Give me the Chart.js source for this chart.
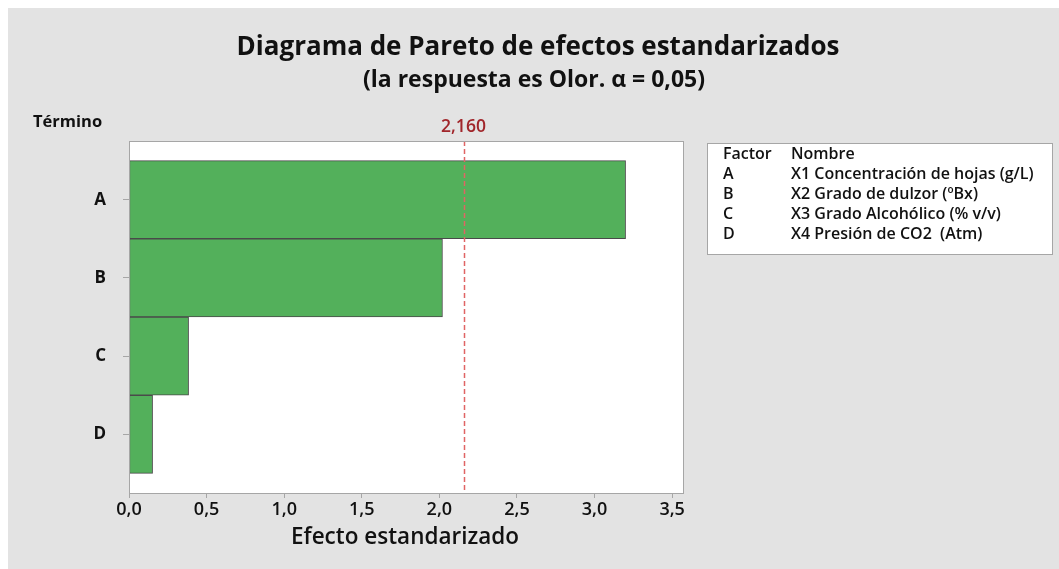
<!DOCTYPE html>
<html>
<head>
<meta charset="utf-8">
<script src="https://cdn.jsdelivr.net/npm/chart.js@4.4.1/dist/chart.umd.min.js"></script>
<style>
  html, body { margin: 0; padding: 0; background: #ffffff; }
  #wrap { position: absolute; left: 8px; top: 8px; width: 1051px; height: 561px; background: #e3e3e3; }
</style>
</head>
<body>
<div id="wrap"><canvas id="pareto" width="1051" height="561"></canvas></div>
<script>
// data
const categories = ["A", "B", "C", "D"];
const effects = [3.20, 2.02, 0.384, 0.152];
const criticalValue = 2.160;
const xTicks = [0, 0.5, 1.0, 1.5, 2.0, 2.5, 3.0, 3.5];
const factorNames = [
    "X1 Concentración de hojas (g/L)",
    "X2 Grado de dulzor (ºBx)",
    "X3 Grado Alcohólico (% v/v)",
    "X4 Presión de CO2  (Atm)"
];

const FONT = "'Open Sans', 'Noto Sans', sans-serif";

const decorations = {
    id: "decorations",
    beforeDraw(chart) {
        const { ctx, chartArea } = chart;
        ctx.save();
        ctx.fillStyle = "#ffffff";
        ctx.fillRect(chartArea.left, chartArea.top, chartArea.right - chartArea.left, chartArea.bottom - chartArea.top);
        ctx.restore();
    },
    afterDatasetsDraw(chart) {
        const { ctx, chartArea, scales } = chart;
        const x = scales.x;
        ctx.save();

        // reference line
        const px = Math.round(x.getPixelForValue(criticalValue)) + 0.5;
        ctx.strokeStyle = "#e06464";
        ctx.lineWidth = 1.5;
        ctx.setLineDash([5, 3]);
        ctx.beginPath();
        ctx.moveTo(px, chartArea.top);
        ctx.lineTo(px, chartArea.bottom);
        ctx.stroke();
        ctx.setLineDash([]);

        // plot frame
        ctx.strokeStyle = "#a6a6a6";
        ctx.lineWidth = 1;
        ctx.strokeRect(Math.round(chartArea.left) + 0.5, Math.round(chartArea.top) + 0.5,
            Math.round(chartArea.right - chartArea.left), Math.round(chartArea.bottom - chartArea.top));

        ctx.textBaseline = "middle";
        ctx.textAlign = "center";

        ctx.fillStyle = "#a1262b";
        ctx.font = "600 17.5px " + FONT;
        ctx.fillText(criticalValue.toFixed(3).replace(".", ","), px - 1, 119);

        ctx.fillStyle = "#111111";
        ctx.font = "bold 26px " + FONT;
        ctx.fillText("Diagrama de Pareto de efectos estandarizados", 530, 40);
        ctx.font = "bold 23px " + FONT;
        ctx.fillText("(la respuesta es Olor. \u03b1 = 0,05)", 526, 72);

        ctx.font = "600 22.5px " + FONT;
        ctx.fillText("Efecto estandarizado", (chartArea.left + chartArea.right) / 2 - 1, 530);

        ctx.textAlign = "left";
        ctx.font = "bold 16.5px " + FONT;
        ctx.fillText("Término", 25, 114);

        // legend box
        ctx.fillStyle = "#ffffff";
        ctx.fillRect(699, 135, 345, 111);
        ctx.strokeStyle = "#a6a6a6";
        ctx.strokeRect(699.5, 135.5, 345, 111);
        ctx.fillStyle = "#111111";
        ctx.font = "600 16px " + FONT;
        ctx.fillText("Factor", 715, 146);
        ctx.fillText("Nombre", 783, 146);
        categories.forEach((c, i) => {
            ctx.fillText(c, 715, 166 + i * 20);
            ctx.fillText(factorNames[i], 783, 166 + i * 20);
        });
        ctx.restore();
    }
};

new Chart(document.getElementById("pareto"), {
    type: "bar",
    data: {
        datasets: [
            {
                data: effects.map((v, i) => ({ x: v, y: i })),
                backgroundColor: "#53b05b",
                borderColor: "#4a4a4a",
                borderWidth: 1,
                borderSkipped: false,
                barPercentage: 1,
                categoryPercentage: 1,
            },
        ],
    },
    options: {
        indexAxis: "y",
        responsive: false,
        animation: false,
        layout: {
            padding: { left: 0, top: 133, right: 376, bottom: 0 },
        },
        scales: {
            x: {
                type: "linear",
                min: 0,
                max: 3.57,
                offset: false,
                afterBuildTicks: (s) => { s.ticks = xTicks.map((v) => ({ value: v })); },
                afterFit: (s) => { s.height = 76; },
                ticks: {
                    callback: (v) => v.toFixed(1).replace(".", ","),
                    font: { family: FONT, size: 18, weight: "600" },
                    color: "#111111",
                    padding: 1,
                    maxRotation: 0,
                },
                grid: { drawOnChartArea: false, offset: false, tickLength: 5, color: "#a6a6a6" },
                border: { color: "#a6a6a6" },
            },
            y: {
                type: "linear",
                reverse: true,
                min: -0.75,
                max: 3.75,
                offset: false,
                afterBuildTicks: (s) => { s.ticks = categories.map((c, i) => ({ value: i })); },
                afterFit: (s) => { s.width = 121; },
                ticks: {
                    callback: (v) => categories[v],
                    font: { family: FONT, size: 17, weight: "bold" },
                    color: "#111111",
                    padding: 17,
                },
                grid: { drawOnChartArea: false, offset: false, tickLength: 6, color: "#a6a6a6" },
                border: { color: "#a6a6a6" },
            },
        },
        plugins: {
            legend: { display: false },
            tooltip: { enabled: false },
        },
    },
    plugins: [decorations],
});
</script>
</body>
</html>
